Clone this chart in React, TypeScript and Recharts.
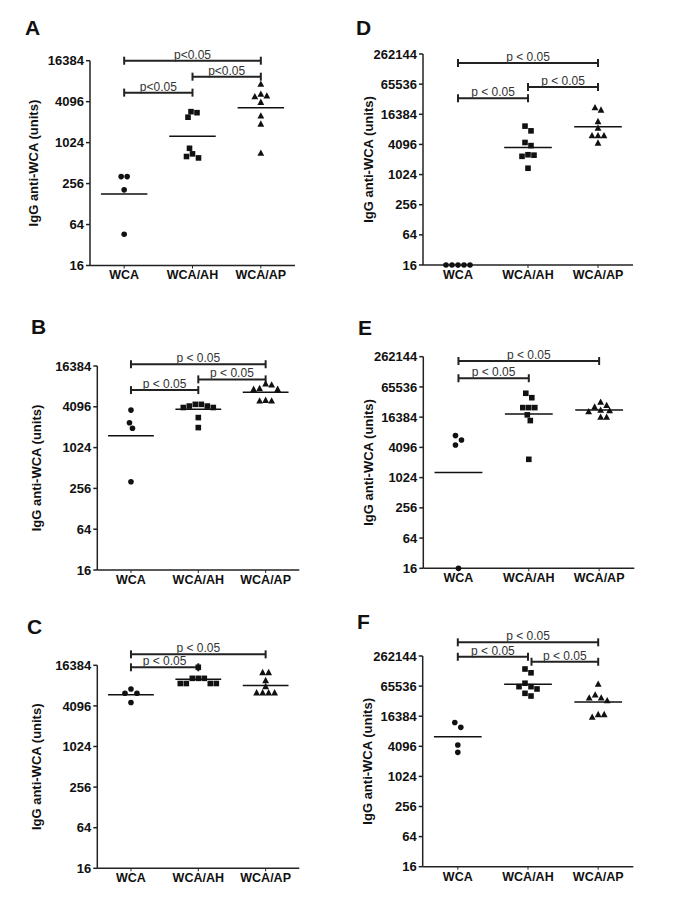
import { ScatterChart, Scatter, XAxis, YAxis, ReferenceLine } from 'recharts';

const groups = ['WCA', 'WCA/AH', 'WCA/AP'];
const ticksShort = [16, 64, 256, 1024, 4096, 16384];
const ticksLong = [16, 64, 256, 1024, 4096, 16384, 65536, 262144];

// A
const aWCA = [324, 324, 207, 46];
const aAH = [2920, 2820, 2420, 845, 700, 640, 610];
const aAP = [7390, 5260, 4970, 4840, 4010, 2520, 1920, 715];
const aMeans = [180, 1270, 3330];
// B
const bWCA = [3660, 2380, 1980, 321];
const bAH = [4450, 4200, 4000, 4000, 4200, 4450, 2840, 2020];
const bAP = [8600, 8900, 7400, 7400, 7600, 5000, 5000, 5100];
const bMeans = [1530, 3770, 6700];
// C
const cWCA = [6300, 6300, 7300, 4600];
const cAH = [15300, 10500, 10500, 10500, 8800, 8800, 8800, 8800];
const cAP = [12800, 12800, 9700, 7900, 6400, 6400, 6400, 6400];
const cMeans = [6000, 10150, 8200];
// D
const dWCA = [16, 16, 16, 16, 16];
const dAH = [9500, 7650, 4480, 3880, 2500, 2370, 2550, 1370];
const dAP = [19800, 22200, 11700, 8660, 6120, 6120, 6120, 4360];
const dMeans = [null, 3560, 9200];
// E
const eWCA = [7030, 5750, 4570, 16];
const eAH = [49000, 40000, 25400, 25400, 25400, 18200, 14000, 2370];
const eAP = [32500, 28000, 26000, 22000, 21000, 22500, 16300, 16300];
const eMeans = [1300, 18900, 22800];
// F
const fWCA = [12300, 9800, 4360, 3100];
const fAH = [144000, 121000, 74800, 63900, 63900, 57400, 47000, 41500];
const fAP = [71300, 43500, 37900, 37900, 33400, 17600, 17600, 15600];
const fMeans = [6380, 71300, 31400];

const font = "'Liberation Sans', Arial, Helvetica, sans-serif";
const ink = '#111';

type Bracket = { from: number; to: number; y: number };

const panels = [
  { id: 'A', left: 0, top: 0, w: 310, h: 300, px: 90, py: 60.7, pw: 205, ph: 204.8, ticks: ticksShort,
    series: [aWCA, aAH, aAP], means: aMeans, p: 'p<0.05', labelX: 33,
    brackets: [{ from: 1, to: 3, y: 16384 }, { from: 2, to: 3, y: 9540 }, { from: 1, to: 2, y: 5560 }] as Bracket[] },
  { id: 'B', left: 0, top: 300, w: 310, h: 290, px: 97.3, py: 366, pw: 202, ph: 204, ticks: ticksShort,
    series: [bWCA, bAH, bAP], means: bMeans, p: 'p < 0.05', labelX: 36,
    brackets: [{ from: 1, to: 3, y: 17400 }, { from: 2, to: 3, y: 10400 }, { from: 1, to: 2, y: 7230 }] },
  { id: 'C', left: 0, top: 590, w: 310, h: 314, px: 97.3, py: 665.3, pw: 202, ph: 203, ticks: ticksShort,
    series: [cWCA, cAH, cAP], means: cMeans, p: 'p < 0.05', labelX: 36,
    brackets: [{ from: 1, to: 3, y: 23800 }, { from: 1, to: 2, y: 15300 }] },
  { id: 'D', left: 340, top: 0, w: 345, h: 300, px: 423, py: 54, pw: 210, ph: 211, ticks: ticksLong,
    series: [dWCA, dAH, dAP], means: dMeans, p: 'p < 0.05', labelX: 368,
    brackets: [{ from: 1, to: 3, y: 174000 }, { from: 2, to: 3, y: 57500 }, { from: 1, to: 2, y: 34200 }] },
  { id: 'E', left: 340, top: 300, w: 345, h: 290, px: 423.3, py: 356.7, pw: 211, ph: 211.6, ticks: ticksLong,
    series: [eWCA, eAH, eAP], means: eMeans, p: 'p < 0.05', labelX: 368,
    brackets: [{ from: 1, to: 3, y: 215000 }, { from: 1, to: 2, y: 97600 }] },
  { id: 'F', left: 340, top: 590, w: 345, h: 314, px: 422.7, py: 656, pw: 210.6, ph: 210.7, ticks: ticksLong,
    series: [fWCA, fAH, fAP], means: fMeans, p: 'p < 0.05', labelX: 367,
    brackets: [{ from: 1, to: 3, y: 492000 }, { from: 1, to: 2, y: 253000 }, { from: 2.05, to: 3, y: 201000 }] },
];

const letterPos: Record<string, [number, number]> = {
  A: [25, 35], B: [31, 334], C: [27, 634], D: [356, 35], E: [358, 335], F: [357, 629],
};

// greedy column scatter: place each point as close to the centre as it fits,
// then centre every touching cluster on the category
function spread(values: number[], center: number, pxPerLog2: number, pxPerUnit: number) {
  const d = 6;
  const pts = values
    .map((v) => ({ v, py: Math.log2(v) * pxPerLog2, px: 0 }))
    .sort((a, b) => b.py - a.py);
  const placed: typeof pts = [];
  const cands: number[] = [0];
  for (let k = 1; k < 20; k++) cands.push(k * d * 0.5, -k * d * 0.5);
  for (const p of pts) {
    for (const c of cands) {
      if (placed.every((q) => (q.px - c) ** 2 + (q.py - p.py) ** 2 >= d * d)) {
        p.px = c;
        break;
      }
    }
    placed.push(p);
  }
  let start = 0;
  for (let i = 1; i <= placed.length; i++) {
    if (i === placed.length || placed[i - 1].py - placed[i].py >= d) {
      const group = placed.slice(start, i);
      const xs = group.map((g) => g.px);
      const shift = (Math.min(...xs) + Math.max(...xs)) / 2;
      group.forEach((g) => (g.px -= shift));
      start = i;
    }
  }
  return placed.map((p) => ({ x: center + p.px / pxPerUnit, y: p.v }));
}

const Dot = (p: any) => <circle cx={p.cx} cy={p.cy} r={2.8} fill={ink} />;
const Sq = (p: any) => <rect x={p.cx - 2.8} y={p.cy - 2.8} width={5.6} height={5.6} fill={ink} />;
const Tri = (p: any) => (
  <polygon points={`${p.cx},${p.cy - 3.8} ${p.cx - 3.4},${p.cy + 2.6} ${p.cx + 3.4},${p.cy + 2.6}`} fill={ink} />
);
const shapes = [Dot, Sq, Tri];

function bracketShape(label: string) {
  return (p: any) => {
    const { x1, y1, x2 } = p;
    return (
      <g>
        <line x1={x1} y1={y1} x2={x2} y2={y1} stroke="#222" strokeWidth={2} />
        <line x1={x1} y1={y1 - 4} x2={x1} y2={y1 + 4} stroke="#222" strokeWidth={2} />
        <line x1={x2} y1={y1 - 4} x2={x2} y2={y1 + 4} stroke="#222" strokeWidth={2} />
        <text x={(x1 + x2) / 2} y={y1 - 2} textAnchor="middle" fontSize={12} fill="#333" fontFamily={font}>
          {label}
        </text>
      </g>
    );
  };
}

function Panel({ cfg }: { cfg: (typeof panels)[number] }) {
  const yw = 60;
  const localX = cfg.px - cfg.left;
  const localY = cfg.py - cfg.top;
  const margin = {
    top: localY,
    left: localX - yw,
    right: cfg.w - localX - cfg.pw,
    bottom: cfg.h - localY - cfg.ph - 30,
  };
  const dom = [cfg.ticks[0], cfg.ticks[cfg.ticks.length - 1]];
  const pxPerLog2 = cfg.ph / Math.log2(dom[1] / dom[0]);
  const pxPerUnit = cfg.pw / 3;
  return (
    <div style={{ position: 'absolute', left: cfg.left, top: cfg.top }}>
      <ScatterChart width={cfg.w} height={cfg.h} margin={margin}>
        <XAxis
          type="number"
          dataKey="x"
          domain={[0.5, 3.5]}
          ticks={[1, 2, 3]}
          interval={0}
          tickFormatter={(v: number) => groups[v - 1]}
          tickSize={3}
          height={30}
          axisLine={{ stroke: '#222', strokeWidth: 1.5 }}
          tickLine={{ stroke: '#222' }}
          tick={{ fontSize: 12.5, fontWeight: 'bold', fill: ink }}
        />
        <YAxis
          type="number"
          dataKey="y"
          scale="log"
          domain={dom}
          ticks={cfg.ticks}
          interval={0}
          width={yw}
          tickSize={4}
          axisLine={{ stroke: '#222', strokeWidth: 1.5 }}
          tickLine={{ stroke: '#222', strokeWidth: 1.5 }}
          tick={{ fontSize: 13, fontWeight: 'bold', fill: ink }}
          label={{
            value: 'IgG anti-WCA (units)',
            angle: -90,
            position: 'insideLeft',
            offset: cfg.labelX - cfg.left - margin.left,
            style: { textAnchor: 'middle', fontSize: 13, fontWeight: 'bold', fill: ink },
          }}
        />
        {cfg.series.map((vals, i) => (
          <Scatter
            key={groups[i]}
            data={spread(vals, i + 1, pxPerLog2, pxPerUnit)}
            shape={shapes[i]}
            isAnimationActive={false}
          />
        ))}
        {cfg.means.map((m, i) =>
          m == null ? null : (
            <ReferenceLine
              key={`m${i}`}
              segment={[{ x: i + 1 - 0.34, y: m }, { x: i + 1 + 0.34, y: m }]}
              stroke={ink}
              strokeWidth={1.5}
              ifOverflow="visible"
            />
          )
        )}
        {cfg.brackets.map((b, i) => (
          <ReferenceLine
            key={`b${i}`}
            segment={[{ x: b.from, y: b.y }, { x: b.to, y: b.y }]}
            ifOverflow="visible"
            shape={bracketShape(cfg.p)}
          />
        ))}
      </ScatterChart>
    </div>
  );
}

export default function App() {
  return (
    <div style={{ position: 'absolute', left: 0, top: 0, width: 685, height: 904, background: '#fff', fontFamily: font }}>
      {panels.map((cfg) => (
        <Panel key={cfg.id} cfg={cfg} />
      ))}
      <svg width={685} height={904} style={{ position: 'absolute', left: 0, top: 0, pointerEvents: 'none' }}>
        {panels.map((cfg) => (
          <text key={cfg.id} x={letterPos[cfg.id][0]} y={letterPos[cfg.id][1]} fontSize={21} fontWeight="bold" fill={ink} fontFamily={font}>
            {cfg.id}
          </text>
        ))}
      </svg>
    </div>
  );
}
